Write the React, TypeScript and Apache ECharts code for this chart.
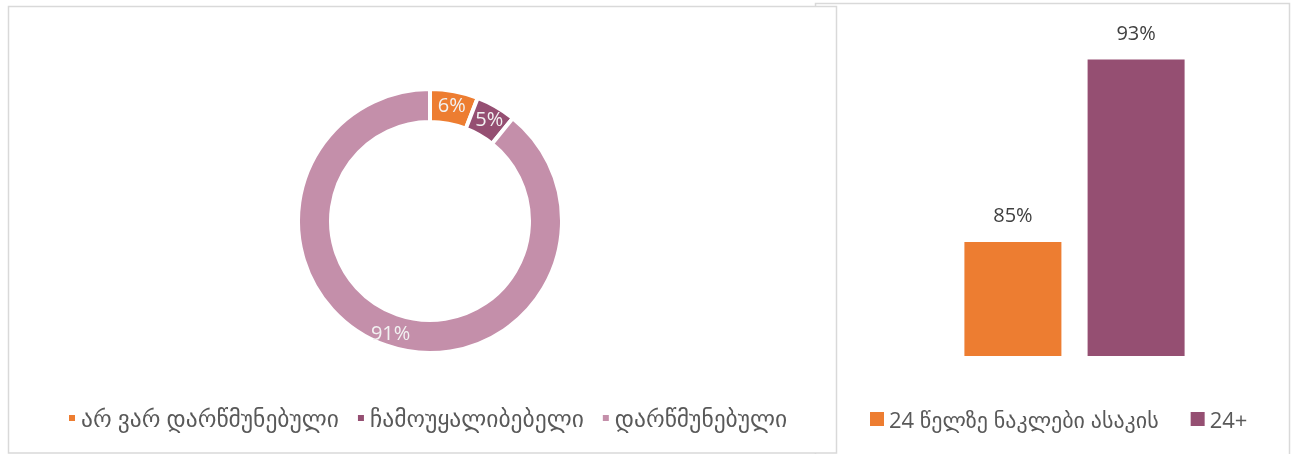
import React, { useEffect, useRef } from "react";
import * as echarts from "echarts";

const pieNames = ["არ ვარ დარწმუნებული", "ჩამოუყალიბებელი", "დარწმუნებული"];
const pieValues = [6, 5, 91];
const pieColors = ["#ED7D31", "#954F72", "#C48FAA"];

const barCategories = [""];
const barSeriesNames = ["24 წელზე ნაკლები ასაკის", "24+"];
const barValues = [[85], [93]];
const barColors = ["#ED7D31", "#954F72"];

const FONT = "'Open Sans', 'DejaVu Sans', sans-serif";

export default function App() {
  const ref = useRef<HTMLDivElement>(null);
  useEffect(() => {
    if (!ref.current) return;
    const chart = echarts.init(ref.current, undefined, { renderer: "svg" });
    const option: any = {
      animation: false,
      textStyle: { fontFamily: FONT },
      graphic: [
        {
          type: "rect",
          z: -10,
          shape: { x: 815.5, y: 3.5, width: 474, height: 470 },
          style: { fill: "#fff", stroke: "#d9d9d9", lineWidth: 1.5 },
        },
        {
          type: "rect",
          z: -9,
          shape: { x: 8.5, y: 6.5, width: 828, height: 446.5 },
          style: { fill: "#fff", stroke: "#d9d9d9", lineWidth: 1.5 },
        },
      ],
      legend: [
        {
          data: pieNames,
          left: 62,
          top: 401,
          icon: "rect",
          itemWidth: 8,
          itemHeight: 8,
          itemGap: 17,
          textStyle: { color: "#595959", fontSize: 23.5, fontFamily: FONT },
        },
        {
          data: barSeriesNames,
          left: 865,
          top: 403,
          icon: "rect",
          itemWidth: 14,
          itemHeight: 14,
          itemGap: 32,
          textStyle: { color: "#595959", fontSize: 22, fontFamily: FONT },
        },
      ],
      grid: { left: 900, width: 349, top: 36.8, height: 319.2 },
      xAxis: {
        type: "category",
        data: barCategories,
        axisLine: { show: false },
        axisTick: { show: false },
        axisLabel: { show: false },
      },
      yAxis: {
        type: "value",
        min: 80,
        max: 94,
        show: false,
        splitLine: { show: false },
      },
      series: [
        {
          type: "pie",
          center: [430, 221],
          radius: [99, 132],
          startAngle: 90,
          data: pieNames.map((n, i) => ({
            name: n,
            value: pieValues[i],
            itemStyle: { color: pieColors[i] },
          })),
          itemStyle: { borderColor: "#fff", borderWidth: 4 },
          label: {
            show: true,
            position: "inside",
            formatter: "{c}%",
            color: "#f2f2f2",
            fontSize: 20,
            fontFamily: FONT,
          },
          labelLine: { show: false },
          emphasis: { disabled: true },
        },
        ...barSeriesNames.map((n, i) => ({
          type: "bar",
          name: n,
          data: barValues[i],
          barWidth: 97,
          barGap: "27%",
          itemStyle: { color: barColors[i] },
          label: {
            show: true,
            position: "top",
            distance: 17.5,
            formatter: "{c}%",
            color: "#404040",
            fontSize: 20,
            fontFamily: FONT,
          },
        })),
      ],
    };
    chart.setOption(option);
    return () => chart.dispose();
  }, []);
  return (
    <div
      ref={ref}
      style={{ position: "fixed", left: 0, top: 0, width: 1291, height: 454 }}
    />
  );
}
